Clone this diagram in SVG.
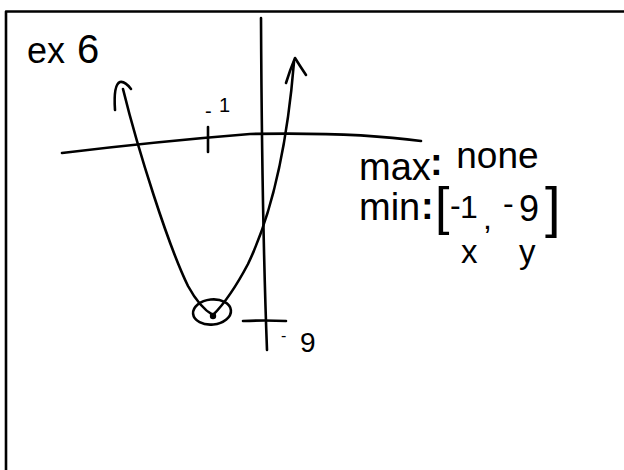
<svg xmlns="http://www.w3.org/2000/svg" width="624" height="470" viewBox="0 0 624 470">
<style>
.ink{fill:none;stroke:#000;stroke-width:2.6;stroke-linecap:round;stroke-linejoin:round}
.h{font-family:"Liberation Sans","DejaVu Sans",sans-serif;fill:#000}
</style>
<rect width="624" height="470" fill="#fff"/>
<path class="ink" d="M6,470 L6,11.5 L624,11.5" stroke-width="2.6"/>
<g id="title"><text class="h" x="27" y="63" font-size="36">ex <tspan x="77" font-size="40">6</tspan></text></g>
<g id="axes">
<path class="ink" d="M62,153 C120,146 200,138 250,134 C300,133 370,134 421,141"/>
<path class="ink" d="M261,18 Q262,220 267,350"/>
<path class="ink" d="M208,127 L208,152"/>
<path class="ink" d="M243,321 Q265,320 286,321"/>
</g>
<g id="parabola">
<path class="ink" d="M123,89 C138,150 168,245 188,286 Q200,308 213,315"/>
<path class="ink" d="M213,315 Q230,298 248,264 C268,222 286,160 294,62"/>
<path class="ink" d="M115,110 C114,95 115,84 120,82 C124,81 128,85 131,89"/>
<path class="ink" d="M286,83 Q290,70 295,58 Q300,66 306,75"/>
<ellipse class="ink" cx="212" cy="312" rx="19" ry="12.5" transform="rotate(-6 212 312)"/>
<circle cx="213" cy="316" r="3.2" fill="#000"/>
</g>
<g id="labels">
<text class="h" y="118" font-size="20"><tspan x="205">-</tspan><tspan x="219" y="112">1</tspan></text>
<text class="h" y="352" font-size="28"><tspan x="281" font-size="16" y="341">-</tspan><tspan x="300" y="352">9</tspan></text>
<text class="h" y="180" font-size="38"><tspan x="359">max</tspan><tspan x="430" y="175" font-weight="bold">:</tspan><tspan x="446" y="168" font-size="37"> none</tspan></text>
<text class="h" y="220" font-size="38"><tspan x="359">min</tspan><tspan x="421" y="219" font-weight="bold">:</tspan><tspan x="435" y="224" font-size="52">[</tspan><tspan x="450" y="216" font-size="32">-</tspan><tspan x="460" y="218" font-size="32">1</tspan><tspan x="483" y="229" font-size="32">,</tspan> <tspan x="503" y="214" font-size="32">-</tspan><tspan x="519" y="221" font-size="36">9</tspan><tspan x="545" y="226" font-size="56">]</tspan></text>
<text class="h" y="263" font-size="33"><tspan x="461">x</tspan><tspan x="519">y</tspan></text>
</g>
</svg>
